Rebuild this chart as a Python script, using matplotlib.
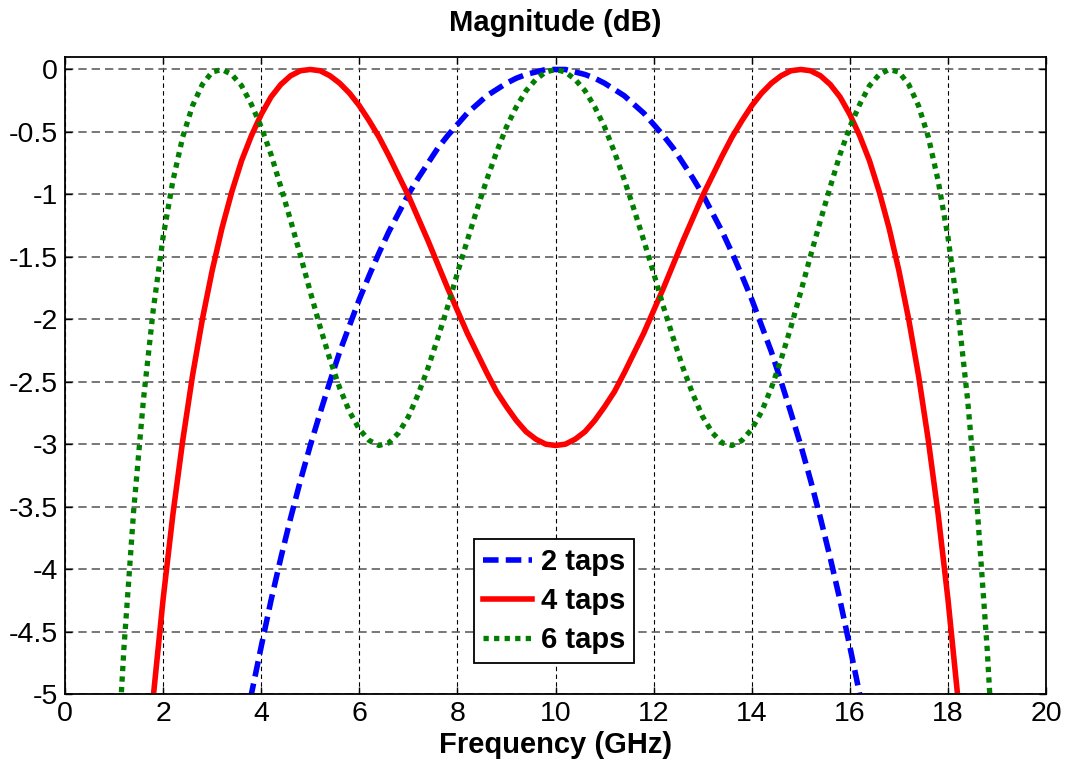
import numpy as np
import matplotlib
matplotlib.use("Agg")
import matplotlib.pyplot as plt

# frequency grid (GHz) and magnitudes (dB)
freq = np.linspace(0.2, 19.8, 99)

taps2 = [-30.06, -24.04, -20.53, -18.04, -16.11, -14.55, -13.23, -12.09, -11.09, -10.20,
         -9.40, -8.68, -8.02, -7.42, -6.86, -6.34, -5.86, -5.42, -5.00, -4.62,
         -4.25, -3.91, -3.59, -3.29, -3.01, -2.75, -2.50, -2.26, -2.05, -1.84,
         -1.65, -1.47, -1.30, -1.15, -1.00, -0.87, -0.75, -0.63, -0.53, -0.44,
         -0.35, -0.28, -0.21, -0.16, -0.11, -0.07, -0.04, -0.02, -0.00, 0.00,
         -0.00, -0.02, -0.04, -0.07, -0.11, -0.16, -0.21, -0.28, -0.35,
         -0.44, -0.53, -0.63, -0.75, -0.87, -1.00, -1.15, -1.30, -1.47, -1.65,
         -1.84, -2.05, -2.26, -2.50, -2.75, -3.01, -3.29, -3.59, -3.91, -4.25,
         -4.62, -5.00, -5.42, -5.86, -6.34, -6.86, -7.42, -8.02, -8.68, -9.40,
         -10.20, -11.09, -12.09, -13.23, -14.55, -16.11, -18.04, -20.53, -24.04, -30.06]

taps4 = [-23.53, -17.53, -14.05, -11.60, -9.72, -8.22, -6.97, -5.92, -5.02, -4.24,
         -3.56, -2.97, -2.45, -2.00, -1.61, -1.27, -0.98, -0.73, -0.53, -0.36,
         -0.22, -0.12, -0.05, -0.01, -0.00, -0.01, -0.05, -0.11, -0.19, -0.29,
         -0.41, -0.54, -0.69, -0.85, -1.01, -1.19, -1.37, -1.56, -1.75, -1.93,
         -2.11, -2.27, -2.43, -2.58, -2.70, -2.81, -2.90, -2.96, -3.00, -3.01,
         -3.00, -2.96, -2.90, -2.81, -2.70, -2.58, -2.43, -2.27, -2.11,
         -1.93, -1.75, -1.56, -1.37, -1.19, -1.01, -0.85, -0.69, -0.54, -0.41,
         -0.29, -0.19, -0.11, -0.05, -0.01, -0.00, -0.01, -0.05, -0.12, -0.22,
         -0.36, -0.53, -0.73, -0.98, -1.27, -1.61, -2.00, -2.45, -2.97, -3.56,
         -4.24, -5.02, -5.92, -6.97, -8.22, -9.72, -11.60, -14.05, -17.53, -23.53]

taps6 = [-19.57, -13.61, -10.17, -7.80, -6.02, -4.64, -3.53, -2.64, -1.92, -1.34,
         -0.89, -0.54, -0.29, -0.12, -0.02, -0.00, -0.04, -0.13, -0.28, -0.46,
         -0.68, -0.94, -1.21, -1.49, -1.78, -2.06, -2.32, -2.55, -2.74, -2.88,
         -2.97, -3.01, -2.99, -2.91, -2.78, -2.60, -2.39, -2.15, -1.90, -1.63,
         -1.37, -1.12, -0.88, -0.66, -0.46, -0.30, -0.17, -0.08, -0.02, 0.00,
         -0.02, -0.08, -0.17, -0.30, -0.46, -0.66, -0.88, -1.12, -1.37,
         -1.63, -1.90, -2.15, -2.39, -2.60, -2.78, -2.91, -2.99, -3.01, -2.97,
         -2.88, -2.74, -2.55, -2.32, -2.06, -1.78, -1.49, -1.21, -0.94, -0.68,
         -0.46, -0.28, -0.13, -0.04, -0.00, -0.02, -0.12, -0.29, -0.54, -0.89,
         -1.34, -1.92, -2.64, -3.53, -4.64, -6.02, -7.80, -10.17, -13.61, -19.57]

labels = ["2 taps", "4 taps", "6 taps"]
xticks = [0, 2, 4, 6, 8, 10, 12, 14, 16, 18, 20]
yticks = [0, -0.5, -1, -1.5, -2, -2.5, -3, -3.5, -4, -4.5, -5]

plt.rcParams['font.family'] = ['Liberation Sans', 'DejaVu Sans']
plt.rcParams['axes.unicode_minus'] = False

fig = plt.figure(figsize=(10.71, 7.65), dpi=100)
ax = fig.add_axes([0.0607, 0.0928, 0.9160, 0.8327])

ax.plot(freq, taps2, color='#0000ff', lw=4, ls=(0, (2.8, 1.3)), label=labels[0])
ax.plot(freq, taps4, color='#ff0000', lw=4, ls='-', label=labels[1])
ax.plot(freq, taps6, color='#007f00', lw=3.8, ls=(0, (1, 1)), label=labels[2])

ax.set_xlim(0, 20)
ax.set_ylim(-5, 0.1)
ax.set_xticks(xticks)
ax.set_yticks(yticks)
ax.set_yticklabels([f"{v:g}" for v in yticks])

# matlab style grid: vertical black, horizontal grey
ax.xaxis.grid(True, color='black', lw=0.8, ls=(0, (4, 3)))
ax.yaxis.grid(True, color='#606060', lw=1.2, ls=(0, (5, 3)))
ax.set_axisbelow(True)

ax.tick_params(direction='in', length=5, width=1, top=True, right=True,
               labelsize=20.5, pad=5)
for sp in ax.spines.values():
    sp.set_linewidth(1.3)

ax.set_title("Magnitude (dB)", fontsize=21, fontweight='bold', pad=19)
ax.set_xlabel("Frequency (GHz)", fontsize=21, fontweight='bold', labelpad=3)

leg = ax.legend(loc='lower left', bbox_to_anchor=(0.417, 0.0487),
                prop={'size': 21, 'weight': 'bold'}, handlelength=1.7,
                handletextpad=0.3, labelspacing=0.38, borderpad=0.3,
                borderaxespad=0, fancybox=False, framealpha=1)
leg.get_frame().set_edgecolor('black')
leg.get_frame().set_linewidth(1.3)

fig.savefig("out.png", dpi=100)
